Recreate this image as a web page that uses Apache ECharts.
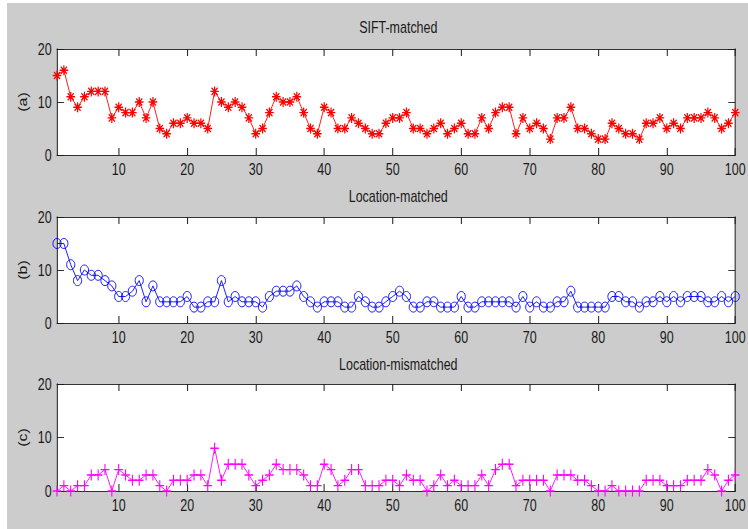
<!DOCTYPE html>
<html><head><meta charset="utf-8">
<script src="https://cdn.jsdelivr.net/npm/echarts@6/dist/echarts.min.js"></script>
<style>
html,body{margin:0;padding:0;background:#fff;overflow:hidden;width:748px;height:529px;}
#chart{width:959px;height:529px;transform:scaleX(0.78);transform-origin:0 0;}
</style></head><body><div id="chart"></div>
<script>
// ---- data ----
const panelTitles = ['SIFT-matched', 'Location-matched', 'Location-mismatched'];
const panelLabels = ['(a)', '(b)', '(c)'];
const xTicks = [10, 20, 30, 40, 50, 60, 70, 80, 90, 100];
const yTicks = [0, 10, 20];
const siftMatched = [
  15,16,11,9,11,12,12,12,7,9,
  8,8,10,7,10,5,4,6,6,7,
  6,6,5,12,10,9,10,9,7,4,
  5,8,11,10,10,11,8,5,4,9,
  8,5,5,7,6,5,4,4,6,7,
  7,8,5,5,4,5,6,4,5,6,
  4,4,7,5,8,9,9,4,7,5,
  6,5,3,7,7,9,5,5,4,3,
  3,6,5,4,4,3,6,6,7,5,
  6,5,7,7,7,8,7,5,6,8
];
const locationMatched = [
  15,15,11,8,10,9,9,8,7,5,
  5,6,8,4,7,4,4,4,4,5,
  3,3,4,4,8,4,5,4,4,4,
  3,5,6,6,6,7,5,4,3,4,
  4,4,3,3,5,4,3,3,4,5,
  6,5,3,3,4,4,3,3,3,5,
  3,3,4,4,4,4,4,3,5,3,
  4,3,3,4,4,6,3,3,3,3,
  3,5,5,4,4,3,4,4,5,4,
  5,4,5,5,5,4,4,5,4,5
];
const locationMismatched = [
  0,1,0,1,1,3,3,4,0,4,
  3,2,2,3,3,1,0,2,2,2,
  3,3,1,8,2,5,5,5,3,1,
  2,3,5,4,4,4,3,1,1,5,
  4,1,2,4,4,1,1,1,2,2,
  1,3,2,2,0,1,3,1,2,1,
  1,1,3,1,4,5,5,1,2,2,
  2,2,0,3,3,3,2,2,1,0,
  0,1,0,0,0,0,2,2,2,1,
  1,1,2,2,2,4,3,0,2,3
];
const seriesValues = [siftMatched, locationMatched, locationMismatched];
const seriesColors = ['#ff0000', '#0000ff', '#ff00ff'];

// ---- styling / layout ----
const FONT = "'Liberation Sans', Arial, Helvetica, sans-serif";
const SX = 0.78;
const gridTops = [49, 217, 384];
const gridHeights = [106, 106, 107];
const gridLeft = 73.1, gridWidth = 875;
const titleTops = [19, 188, 356];
const axisColor = '#1a1a1a';
const symbols = [
  'path://M0,-10L0,10M-10,0L10,0M-7.07,-7.07L7.07,7.07M-7.07,7.07L7.07,-7.07',
  'circle',
  'path://M0,-10L0,10M-10,0L10,0'
];
const symbolSizes = [[11, 10], [10.5, 10], [11, 11]];
const symbolStroke = [1.5, 1, 1.4];

const grids = [], xAxes = [], yAxes = [], series = [], titles = [];
for (let p = 0; p < 3; p++) {
  grids.push({left: gridLeft, width: gridWidth, top: gridTops[p], height: gridHeights[p],
    show: true, backgroundColor: '#ffffff', borderWidth: 0, containLabel: false});
  titles.push({text: panelTitles[p], left: gridLeft + gridWidth / 2, top: titleTops[p],
    textAlign: 'center', padding: 0,
    textStyle: {fontFamily: FONT, fontSize: 16, fontWeight: 'normal', color: '#1a1a1a'}});
  // bottom x axis
  xAxes.push({type: 'value', gridIndex: p, position: 'bottom', min: 1, max: 100,
    axisLine: {show: true, onZero: false, lineStyle: {color: axisColor, width: 1}},
    axisTick: {show: true, inside: true, length: 7, customValues: xTicks,
      lineStyle: {color: axisColor, width: 1.28}},
    axisLabel: {show: true, customValues: xTicks, margin: 6,
      fontFamily: FONT, fontSize: 16, color: '#1a1a1a'},
    splitLine: {show: false}});
  // top x axis (box)
  xAxes.push({type: 'value', gridIndex: p, position: 'top', min: 1, max: 100,
    axisLine: {show: true, onZero: false, lineStyle: {color: axisColor, width: 1}},
    axisTick: {show: true, inside: true, length: 7, customValues: xTicks,
      lineStyle: {color: axisColor, width: 1.28}},
    axisLabel: {show: false}, splitLine: {show: false}});
  // left y axis
  yAxes.push({type: 'value', gridIndex: p, position: 'left', min: 0, max: 20, interval: 10,
    name: panelLabels[p], nameLocation: 'middle', nameGap: 32, nameRotate: 90,
    nameTextStyle: {fontFamily: FONT, fontSize: 16, color: '#1a1a1a'},
    axisLine: {show: true, onZero: false, lineStyle: {color: axisColor, width: 1.28}},
    axisTick: {show: true, inside: true, length: 9, lineStyle: {color: axisColor, width: 1}},
    axisLabel: {show: true, margin: 7, fontFamily: FONT, fontSize: 16, color: '#1a1a1a',
      customValues: yTicks},
    splitLine: {show: false}});
  // right y axis (box)
  yAxes.push({type: 'value', gridIndex: p, position: 'right', min: 0, max: 20, interval: 10,
    axisLine: {show: true, onZero: false, lineStyle: {color: axisColor, width: 1.28}},
    axisTick: {show: true, inside: true, length: 9, lineStyle: {color: axisColor, width: 1}},
    axisLabel: {show: false}, splitLine: {show: false}});
  const vals = seriesValues[p];
  series.push({type: 'line', name: panelTitles[p], xAxisIndex: p * 2, yAxisIndex: p * 2,
    data: vals.map((v, i) => [i + 1, v]),
    symbol: symbols[p], symbolSize: symbolSizes[p], showAllSymbol: true,
    lineStyle: {color: seriesColors[p], width: 1},
    itemStyle: {color: 'transparent', borderColor: seriesColors[p], borderWidth: symbolStroke[p]},
    emphasis: {disabled: true}, animation: false, silent: true});
}

const chart = echarts.init(document.getElementById('chart'), null, {renderer: 'svg'});
chart.setOption({
  animation: false,
  backgroundColor: '#ffffff',
  graphic: [{type: 'rect', z: -100, left: 7 / SX, top: 3,
    shape: {x: 0, y: 0, width: 959, height: 529}, style: {fill: '#cccccc'}, silent: true}],
  title: titles,
  grid: grids,
  xAxis: xAxes,
  yAxis: yAxes,
  series: series
});
</script></body></html>
